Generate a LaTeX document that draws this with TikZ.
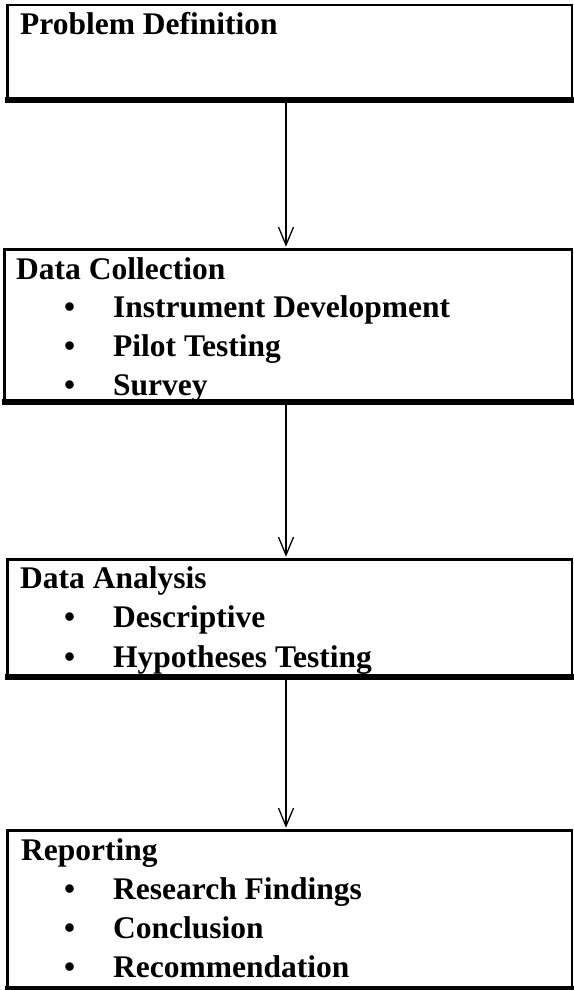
\documentclass[tikz,border=0pt]{standalone}
\usepackage{fontspec}
\setmainfont{Liberation Serif}
\usetikzlibrary{arrows.meta}
\begin{document}
\begin{tikzpicture}[x=1pt,y=-1pt,
  stagebox/.style={draw, line width=2.5pt, inner sep=0pt, anchor=north west, minimum width=564.5pt},
  heavy/.style={line width=6pt},
  txt/.style={anchor=base west, inner sep=0pt, font=\bfseries\fontsize{31.5}{38}\selectfont},
  flow/.style={line width=1.3pt, shorten >=1.25pt,
    -{Straight Barb[length=18pt,width=15pt,line width=1.3pt]}}
]
\useasboundingbox (0,0) rectangle (573,990);

% stage frames
\node[stagebox, minimum height=93pt]  (b1) at (6,4) {};
\node[stagebox, minimum width=567.5pt, minimum height=151pt] (b2) at (3,248) {};
\node[stagebox, minimum height=116pt] (b3) at (6,558) {};
\node[stagebox, minimum height=157pt] (b4) at (6,829) {};

% vertical axis of the connectors
\coordinate (axis) at (286,0);

% stage 1
\node[txt] (t1) at (20,35) {Problem Definition};

% stage 2
\begin{scope}
  \clip (b2.south west) rectangle (b2.north east);
  \node[txt] (t2) at (16,279) {Data Collection};
  \node[txt] (t2a) at (64,317) {\textbullet};
  \node[txt] (t2b) at (113,317) {Instrument Development};
  \node[txt] (t2c) at (64,356) {\textbullet};
  \node[txt] (t2d) at (113,356) {Pilot Testing};
  \node[txt] (t2e) at (64,395) {\textbullet};
  \node[txt] (t2f) at (113,395) {Survey};
\end{scope}

% stage 3
\begin{scope}
  \clip (b3.south west) rectangle (b3.north east);
  \node[txt] (t3) at (20,588) {Data Analysis};
  \node[txt] (t3a) at (64,627) {\textbullet};
  \node[txt] (t3b) at (113,627) {Descriptive};
  \node[txt] (t3c) at (64,667) {\textbullet};
  \node[txt] (t3d) at (113,667) {Hypotheses Testing};
\end{scope}

% stage 4
\node[txt] (t4) at (21,860) {Reporting};
\node[txt] (t4a) at (64,899) {\textbullet};
\node[txt] (t4b) at (113,899) {Research Findings};
\node[txt] (t4c) at (64,938) {\textbullet};
\node[txt] (t4d) at (113,938) {Conclusion};
\node[txt] (t4e) at (64,977) {\textbullet};
\node[txt] (t4f) at (113,977) {Recommendation};

% heavy lower edges
\foreach \b in {b1,b2,b3,b4}
  \draw[heavy] ([xshift=-1.25pt]\b.south west) -- ([xshift=1.25pt]\b.south east);

% connectors
\draw[flow] (b1.south -| axis) -- (b2.north -| axis);
\draw[flow] (b2.south -| axis) -- (b3.north -| axis);
\draw[flow] (b3.south -| axis) -- (b4.north -| axis);
\end{tikzpicture}
\end{document}
